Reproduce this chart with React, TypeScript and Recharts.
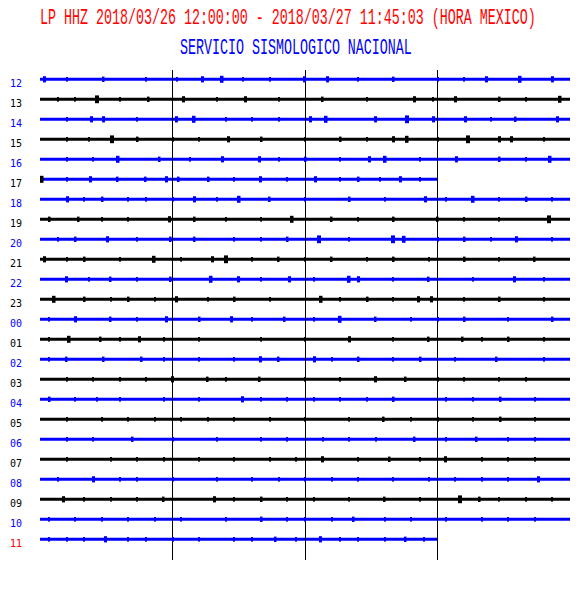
import { ComposedChart, Line, Scatter, XAxis, YAxis, ReferenceLine, Customized } from 'recharts'

const BLUE = '#0000ff'
const BLACK = '#000000'
const RED = '#ff0000'

// hour label for every trace row, top to bottom
const hours = ['12', '13', '14', '15', '16', '17', '18', '19', '20', '21', '22', '23',
  '00', '01', '02', '03', '04', '05', '06', '07', '08', '09', '10', '11']

// minutes recorded on each row (17 and the last row stop at :45)
const rowEnds = [60, 60, 60, 60, 60, 45, 60, 60, 60, 60, 60, 60,
  60, 60, 60, 60, 60, 60, 60, 60, 60, 60, 60, 45]

const labelColors = hours.map((_, i) => (i === 23 ? RED : i % 2 === 0 ? BLUE : BLACK))
const traceColors = hours.map((_, i) => (i === 5 || i === 23 ? BLUE : i % 2 === 0 ? BLUE : BLACK))

// [minute, amplitude] of the visible bursts on every row
const b12 = [[0.5, 2], [3, 1], [7.2, 1.5], [12, 1], [15.5, 1], [18.4, 2], [20.6, 2.5], [23, 1], [26, 1], [29.9, 2], [32.6, 2], [36, 1], [40, 1.5], [45, 1], [48, 1], [50.6, 2], [54.3, 2.5], [58, 2]]
const b13 = [[2, 1], [4, 1], [6.4, 3], [9, 1], [12.2, 1.5], [16.2, 2], [20, 1], [23.3, 2], [27, 1], [32, 1.5], [37, 1], [42.4, 2], [44.5, 1], [47, 2], [52, 1.5], [55, 1], [58.8, 2.5]]
const b14 = [[3, 1], [5.8, 2], [7.2, 2], [11, 1], [15.4, 2], [17.4, 2.5], [21, 1], [24, 1], [27, 1], [30.6, 2], [32.4, 2.5], [38, 2], [41.5, 3], [44.5, 2], [48.2, 2], [51, 1], [53.8, 1.5], [58.6, 2]]
const b15 = [[3, 1], [5.5, 1], [8.2, 3], [11, 1.5], [15, 1], [18, 1], [21.3, 2], [25, 1.5], [30, 1], [34, 1.5], [37, 1], [40, 2], [41.5, 2.5], [45, 1], [48.5, 3], [52, 2], [53.4, 2], [57, 1]]
const b16 = [[3, 1], [6, 1], [8.8, 2.5], [13.5, 1.5], [17, 1], [20.7, 2], [24.8, 2], [27, 1], [30, 1.5], [34, 1], [37.3, 2], [39, 2.5], [43, 1], [47.2, 2], [52, 1.5], [55, 1], [57.7, 2.5]]
const b17 = [[3, 1], [5.7, 2], [8.8, 1.5], [11.9, 1.5], [14.3, 2], [15.6, 1.5], [19, 1.5], [22, 1], [25, 2], [28, 1], [31.2, 2], [34, 1], [36, 1.5], [38.5, 1], [40.8, 2], [43, 1]]
const b17Start = [[0.2, 2.5]]
const b18 = [[3.1, 2], [5, 1], [7, 1.5], [10, 1], [12, 1], [15, 1], [17.5, 2], [20, 1], [22.5, 2.5], [26, 1.5], [30, 1], [35, 1.5], [39, 1], [43.6, 2], [46, 1], [49, 2.5], [52, 1], [55, 1.5], [58, 1]]
const b19 = [[1, 1.5], [4.3, 1.5], [7, 1], [10, 1], [14.7, 2], [17.5, 1.5], [21, 1], [25, 1], [28.5, 2.5], [33, 1.5], [36, 1], [40, 1.5], [45, 1.5], [48, 1], [52, 1], [57.6, 3]]
const b20 = [[2, 1], [4, 1.5], [7.6, 2], [11, 1], [14.8, 1.5], [17.5, 1.5], [22, 1], [25, 1], [28, 1.5], [31.6, 3], [35, 1], [40, 3], [41.2, 2.5], [45, 1], [48, 1.5], [51, 1], [53.9, 2], [58, 1]]
const b21 = [[0.5, 2], [3, 1], [5, 1.5], [9, 1], [12.9, 2.5], [16, 1], [19.5, 2], [21, 3], [24, 1], [27, 1.5], [30, 1], [33, 1.5], [37, 1], [40, 1.5], [44, 1], [48, 1.5], [52, 1], [56, 1.5]]
const b22 = [[3, 2], [5.5, 1], [8, 1.5], [11, 1], [14.8, 1.5], [19.3, 2.5], [22.5, 2], [25, 1], [28.3, 2], [31, 1], [35, 2.5], [36.1, 2], [40, 1], [44, 1.5], [49, 1], [53.7, 2], [57, 1]]
const b23 = [[1.6, 2.5], [5, 1.5], [8, 1], [10, 1.5], [13, 1], [15.4, 2], [19, 1], [22, 1.5], [26, 1], [31.8, 2.5], [34, 1], [37, 1.5], [40, 1], [42.8, 2], [44.3, 2], [48, 1], [52, 1.5], [57, 1]]
const b00 = [[1, 1], [4, 2], [8, 1.5], [11, 1], [14.3, 2], [18, 1.5], [21.7, 2], [24, 1], [27.7, 1.5], [31, 1], [33.9, 2.5], [38, 1.5], [42, 1], [45, 1], [48, 1.5], [53, 1], [58, 1.5]]
const b01 = [[1, 1], [3.2, 2.5], [6.8, 1.5], [9, 1], [11.3, 2], [14, 1], [18, 1], [25, 1], [30, 1], [35, 2], [40, 1], [44, 1.5], [47.8, 1.5], [50, 1], [53, 1.5], [57, 1]]
const b02 = [[1, 1], [3, 1.5], [7.2, 1.5], [11.5, 1.5], [14, 1], [18, 1], [22, 1], [25, 2], [27, 1.5], [31.1, 2], [33, 1], [36, 1.5], [40, 1], [43, 1.5], [47, 1], [51.7, 1.5], [57, 1]]
const b03 = [[3, 1], [6, 1], [9, 1], [12, 1], [15, 2], [18.9, 1.5], [21, 1], [24.8, 1.5], [30, 1], [34, 1], [38, 2], [41.3, 1.5], [45, 1], [48, 1], [52, 1], [55, 1]]
const b04 = [[1, 1.5], [4, 1], [6.5, 1], [9, 1], [14, 1], [18, 1], [22.9, 2], [25, 1], [28, 1], [31, 1], [34, 1], [37, 1], [40, 1.5], [46, 1], [49, 1], [52.1, 1.5], [56, 1]]
const b05 = [[3, 1], [7, 1], [10, 1], [13, 1], [16, 1], [19, 1], [22, 1], [26, 1], [30, 1], [35, 1], [38.9, 1.5], [42, 1], [45, 1], [49, 1], [52.1, 1.5], [56, 1]]
const b06 = [[3, 1], [6, 1], [10.4, 1.5], [15, 1], [20, 1], [25, 1], [28, 1], [32, 1], [35, 1], [38, 1], [42.4, 1.5], [46, 1], [49.4, 1.5], [53, 1], [56, 1]]
const b07 = [[3, 1], [8, 1], [11, 1], [14, 1], [18, 1], [22, 1], [26, 1], [29, 1], [32, 2], [36, 1], [39.5, 1.5], [43, 1], [45.9, 2], [50, 1], [53, 1], [56, 1]]
const b08 = [[2, 1], [6, 2], [9, 1], [11, 1], [15, 1], [20, 1], [24, 1], [27, 1], [30, 1], [33, 1], [36, 1], [40, 1], [44, 1], [47, 1], [50, 1], [53, 1], [56.4, 2]]
const b09 = [[2.7, 2], [5, 1], [8, 1], [11, 1], [14, 1.5], [19.7, 2], [22, 1], [25, 1.5], [28, 1], [31, 1], [35, 1], [39, 1.5], [43, 1], [47.6, 3], [49.7, 1.5], [52, 1], [55, 1], [58, 1]]
const b10 = [[1, 1], [4, 1], [7, 1], [10, 1], [13, 1], [16, 1], [21, 1], [25, 1.5], [28, 1], [30, 1], [33, 1], [35.5, 1.5], [39, 1], [42, 1], [46, 1], [50, 1], [53, 1], [56, 1]]
const b11 = [[1, 1], [3, 1], [5, 1], [7.4, 2], [10, 1], [12, 1], [15, 1], [18, 1], [22, 1], [24, 1], [26.6, 1.5], [29, 1], [31.8, 2], [34, 1], [36, 1], [39, 1], [41.3, 1.5], [43.5, 1]]

const bursts = [b12, b13, b14, b15, b16, b17, b18, b19, b20, b21, b22, b23,
  b00, b01, b02, b03, b04, b05, b06, b07, b08, b09, b10, b11]

const gridMinutes = [15, 30, 45]

const title = 'LP HHZ 2018/03/26 12:00:00 - 2018/03/27 11:45:03 (HORA MEXICO)'
const subtitle = 'SERVICIO SISMOLOGICO NACIONAL'

const burstShape = (color: string) => (props: any) => {
  const a = props.payload.a
  const w = 1 + a
  const h = 3 + 1.6 * a
  return <rect x={Math.round(props.cx - w / 2)} y={props.cy - h / 2} width={w} height={h} fill={color} />
}

const RowLabel = (props: any) => {
  const i = props.payload.value
  return (
    <text x={10} y={props.y + 7.5} fill={labelColors[i]} fontFamily="'DejaVu Sans Mono', monospace" fontSize={10}>
      {hours[i]}
    </text>
  )
}

const Titles = () => (
  <g fontFamily="'Liberation Mono', monospace" fontSize={13.33}>
    <text transform="translate(40,24) scale(1,1.7)" fill={RED}>{title}</text>
    <text transform="translate(180,54) scale(1,1.7)" fill={BLUE}>{subtitle}</text>
  </g>
)

export default function App() {
  return (
    <div style={{ position: 'absolute', left: 0, top: 0 }}>
      <ComposedChart width={580} height={600} margin={{ top: 70, right: 10, bottom: 40, left: 0 }}>
        <XAxis type="number" dataKey="x" domain={[0, 60]} hide />
        <YAxis
          type="number"
          dataKey="y"
          domain={[-0.465, 24.035]}
          reversed
          width={40}
          ticks={hours.map((_, i) => i)}
          interval={0}
          axisLine={false}
          tickLine={false}
          tick={<RowLabel />}
        />
        {hours.map((h, i) => (
          <Line
            key={'l' + h}
            data={[{ x: 0, y: i }, { x: rowEnds[i], y: i }]}
            dataKey="y"
            stroke={traceColors[i]}
            strokeWidth={3}
            dot={false}
            isAnimationActive={false}
          />
        ))}
        {bursts.map((rows, i) => (
          <Scatter
            key={'s' + i}
            data={rows.map(([m, a]) => ({ x: m, y: i, a }))}
            dataKey="y"
            shape={burstShape(traceColors[i])}
            isAnimationActive={false}
          />
        ))}
        <Scatter
          data={b17Start.map(([m, a]) => ({ x: m, y: 5, a }))}
          dataKey="y"
          shape={burstShape(BLACK)}
          isAnimationActive={false}
        />
        {gridMinutes.map((m) => (
          <ReferenceLine key={m} x={m} stroke={BLACK} strokeWidth={1} shapeRendering="crispEdges" />
        ))}
        <Customized component={Titles} />
      </ComposedChart>
    </div>
  )
}
